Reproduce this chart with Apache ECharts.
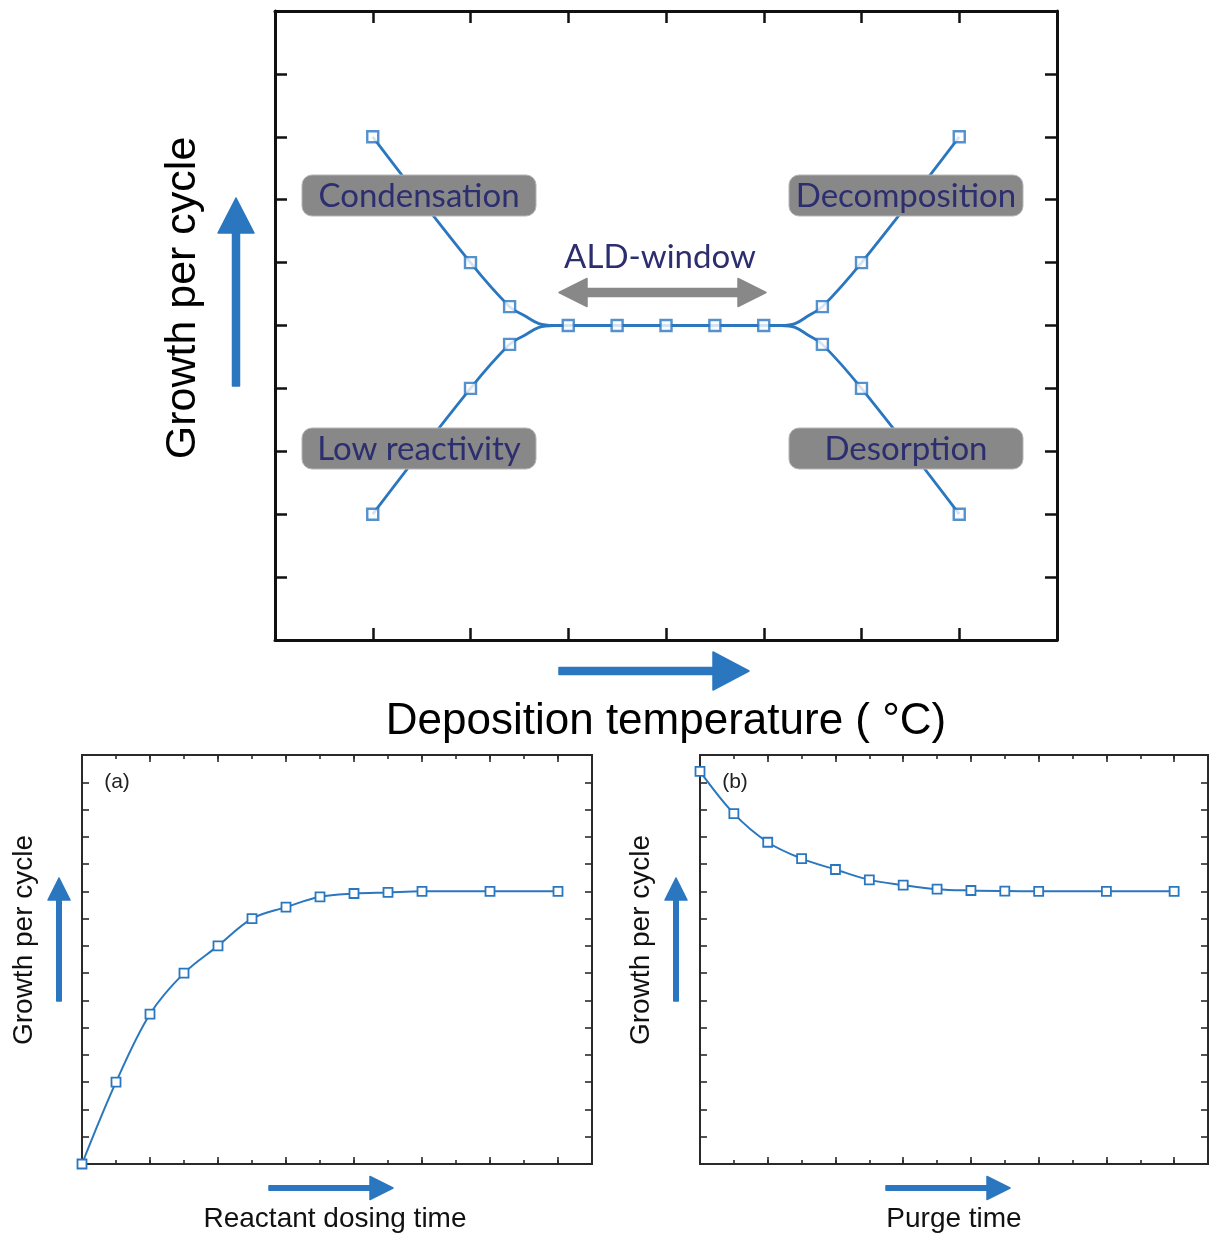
<!DOCTYPE html>
<html>
<head>
<meta charset="utf-8">
<script src="https://cdn.jsdelivr.net/npm/echarts@6/dist/echarts.min.js"></script>
<style>
html,body{margin:0;padding:0;background:#fff;}
#c{width:1210px;height:1237px;}
</style>
</head>
<body>
<div id="c"></div>
<script>
// ---------- DATA ----------
// Top chart: growth per cycle vs deposition temperature (arbitrary units)
const condensationCurve = [[1,8],[2,6],[2.4,5.3],[2.55,5.16],[2.7,5.03],[2.85,5],[3,5]];
const lowReactivityCurve = [[1,2],[2,4],[2.4,4.7],[2.55,4.84],[2.7,4.97],[2.85,5],[3,5]];
const aldWindowCurve = [[3,5],[3.5,5],[4,5],[4.5,5],[5,5]];
const decompositionCurve = [[5,5],[5.18,5],[5.32,5.03],[5.46,5.16],[5.6,5.3],[6,6],[7,8]];
const desorptionCurve = [[5,5],[5.18,5],[5.32,4.97],[5.46,4.84],[5.6,4.7],[6,4],[7,2]];
const tempMarkers = [[1,8],[2,6],[2.4,5.3],[1,2],[2,4],[2.4,4.7],
  [3,5],[3.5,5],[4,5],[4.5,5],[5,5],
  [5.6,5.3],[6,6],[7,8],[5.6,4.7],[6,4],[7,2]];

// (a) growth per cycle vs reactant dosing time
const dosingTime = [0,1,2,3,4,5,6,7,8,9,10,12,14];
const gpcDosing  = [0,3.0,5.5,7.0,8.0,9.0,9.42,9.8,9.92,9.96,10,10,10];

// (b) growth per cycle vs purge time
const purgeTime = [0,1,2,3,4,5,6,7,8,9,10,12,14];
const gpcPurge  = [14.4,12.85,11.8,11.2,10.8,10.42,10.23,10.08,10.03,10.01,10,10,10];

// Text
const topYLabel = 'Growth per cycle';
const topXLabel = 'Deposition temperature ( \u00B0C)';
const regionLabels = ['Condensation','Decomposition','Low reactivity','Desorption'];
const windowLabel = 'ALD-window';
const panelLabels = ['(a)','(b)'];
const bottomXLabels = ['Reactant dosing time','Purge time'];

// ---------- STYLE ----------
const BLUE = '#2a77c0';
const NAVY = '#2c2e6f';
const GRAY = '#888888';
const SANS = '"Liberation Sans", Arial, sans-serif';
const CAL = 'Lato, "Open Sans", sans-serif';

function zip(a,b){ return a.map((v,i)=>[v,b[i]]); }

function valAxis(grid, pos, min, max, interval, tickLen, lineW, col, tickW){
  return {
    type:'value', gridIndex:grid, position:pos, min:min, max:max, interval:interval,
    axisLine:{show:true, onZero:false, lineStyle:{color:col, width:lineW}},
    axisTick:{show:true, inside:true, length:tickLen, lineStyle:{color:col, width:tickW}},
    axisLabel:{show:false}, splitLine:{show:false}
  };
}

const xAxes = [
  valAxis(0,'bottom',0,8,1,12,3,'#111',2.5),
  valAxis(0,'top',0,8,1,12,3,'#111',2.5),
  valAxis(1,'bottom',0,15,2,7,2,'#2a2a2a',1.6),
  valAxis(1,'bottom',0,15,1,4,2,'#2a2a2a',1.6),
  valAxis(1,'top',0,15,2,7,2,'#2a2a2a',1.6),
  valAxis(1,'top',0,15,1,4,2,'#2a2a2a',1.6),
  valAxis(2,'bottom',0,15,2,7,2,'#2a2a2a',1.6),
  valAxis(2,'bottom',0,15,1,4,2,'#2a2a2a',1.6),
  valAxis(2,'top',0,15,2,7,2,'#2a2a2a',1.6),
  valAxis(2,'top',0,15,1,4,2,'#2a2a2a',1.6)
];
const yAxes = [
  valAxis(0,'left',0,10,1,12,3,'#111',2.5),
  valAxis(0,'right',0,10,1,12,3,'#111',2.5),
  valAxis(1,'left',0,15,1,7,2,'#2a2a2a',1.6),
  valAxis(1,'right',0,15,1,7,2,'#2a2a2a',1.6),
  valAxis(2,'left',0,15,1,7,2,'#2a2a2a',1.6),
  valAxis(2,'right',0,15,1,7,2,'#2a2a2a',1.6)
];

function curve(data){
  return {type:'line', xAxisIndex:0, yAxisIndex:0, data:data, smooth:0.4,
    symbol:'none', lineStyle:{color:BLUE, width:2.8}, z:3, silent:true};
}

const series = [
  curve(condensationCurve), curve(lowReactivityCurve), curve(aldWindowCurve),
  curve(decompositionCurve), curve(desorptionCurve),
  {type:'scatter', xAxisIndex:0, yAxisIndex:0, data:tempMarkers, symbol:'rect', symbolSize:11,
    itemStyle:{color:'#fff', borderColor:BLUE, borderWidth:2.4}, z:4, silent:true},
  {type:'line', xAxisIndex:2, yAxisIndex:2, data:zip(dosingTime,gpcDosing), smooth:0.35,
    symbol:'rect', symbolSize:9, showAllSymbol:true,
    itemStyle:{color:'#fff', borderColor:BLUE, borderWidth:1.8},
    lineStyle:{color:BLUE, width:2}, z:3, silent:true},
  {type:'line', xAxisIndex:6, yAxisIndex:4, data:zip(purgeTime,gpcPurge), smooth:0.35,
    symbol:'rect', symbolSize:9, showAllSymbol:true,
    itemStyle:{color:'#fff', borderColor:BLUE, borderWidth:1.8},
    lineStyle:{color:BLUE, width:2}, z:3, silent:true}
];

// ---------- GRAPHIC HELPERS ----------
function labelBox(cx, cy, text){
  return {type:'group', z:100, children:[
    {type:'rect', z:100, shape:{x:cx-117, y:cy-20.5, width:234, height:41, r:10},
      style:{fill:GRAY, stroke:'#b5b5b5', lineWidth:1}},
    {type:'text', z:101, x:cx, y:cy+1, style:{text:text, font:'33px '+CAL, fill:NAVY,
      align:'center', verticalAlign:'middle'}}
  ]};
}
function arrowRight(x0, x1, y, shaftW, headL, headW, color){
  return {type:'polygon', z:100, shape:{points:[
    [x0,y-shaftW/2],[x1-headL,y-shaftW/2],[x1-headL,y-headW/2],[x1,y],
    [x1-headL,y+headW/2],[x1-headL,y+shaftW/2],[x0,y+shaftW/2]]},
    style:{fill:color, stroke:color, lineWidth:1.5, lineJoin:'round'}};
}
function arrowUp(x, y0, y1, shaftW, headL, headW, color){
  return {type:'polygon', z:100, shape:{points:[
    [x-shaftW/2,y0],[x-shaftW/2,y1+headL],[x-headW/2,y1+headL],[x,y1],
    [x+headW/2,y1+headL],[x+shaftW/2,y1+headL],[x+shaftW/2,y0]]},
    style:{fill:color, stroke:color, lineWidth:1.5, lineJoin:'round'}};
}
function doubleArrow(x0, x1, y, shaftW, headL, headW, color){
  return {type:'polygon', z:100, shape:{points:[
    [x0,y],[x0+headL,y-headW/2],[x0+headL,y-shaftW/2],[x1-headL,y-shaftW/2],
    [x1-headL,y-headW/2],[x1,y],[x1-headL,y+headW/2],[x1-headL,y+shaftW/2],
    [x0+headL,y+shaftW/2],[x0+headL,y+headW/2]]},
    style:{fill:color, stroke:color, lineWidth:1.5, lineJoin:'round'}};
}
function txt(x, y, text, font, color, rot){
  return {type:'text', z:100, x:x, y:y, rotation:rot||0,
    style:{text:text, font:font, fill:color, align:'center', verticalAlign:'middle'}};
}

const graphics = [
  labelBox(419, 195.5, regionLabels[0]),
  labelBox(906, 195.5, regionLabels[1]),
  labelBox(419, 448.5, regionLabels[2]),
  labelBox(906, 448.5, regionLabels[3]),
  txt(660, 257, windowLabel, '33px '+CAL, NAVY),
  doubleArrow(559, 766, 292.5, 8, 28, 28, GRAY),
  txt(183, 298, topYLabel, '43px '+SANS, '#000', Math.PI/2),
  arrowUp(236, 386, 198, 7, 35, 36, BLUE),
  arrowRight(559, 749, 671, 7, 36, 38, BLUE),
  txt(666, 722, topXLabel, '44px '+SANS, '#000'),
  txt(117, 782, panelLabels[0], '21px '+SANS, '#222'),
  txt(735, 782, panelLabels[1], '21px '+SANS, '#222'),
  txt(24, 940, topYLabel, '28px '+SANS, '#111', Math.PI/2),
  txt(641, 940, topYLabel, '28px '+SANS, '#111', Math.PI/2),
  arrowUp(59, 1001, 878, 4.5, 22, 22, BLUE),
  arrowUp(676, 1001, 878, 4.5, 22, 22, BLUE),
  arrowRight(269, 393, 1188, 4.5, 23, 23, BLUE),
  arrowRight(886, 1010, 1188, 4.5, 23, 23, BLUE),
  txt(335, 1219, bottomXLabels[0], '28px '+SANS, '#111'),
  txt(954, 1219, bottomXLabels[1], '28px '+SANS, '#111')
];

const chart = echarts.init(document.getElementById('c'), null, {renderer:'canvas'});
chart.setOption({
  animation:false,
  backgroundColor:'#fff',
  grid:[
    {left:275, top:11, width:782, height:629},
    {left:82, top:755, width:510, height:409},
    {left:700, top:755, width:508, height:409}
  ],
  xAxis:xAxes,
  yAxis:yAxes,
  series:series,
  graphic:graphics
});
</script>
</body>
</html>
